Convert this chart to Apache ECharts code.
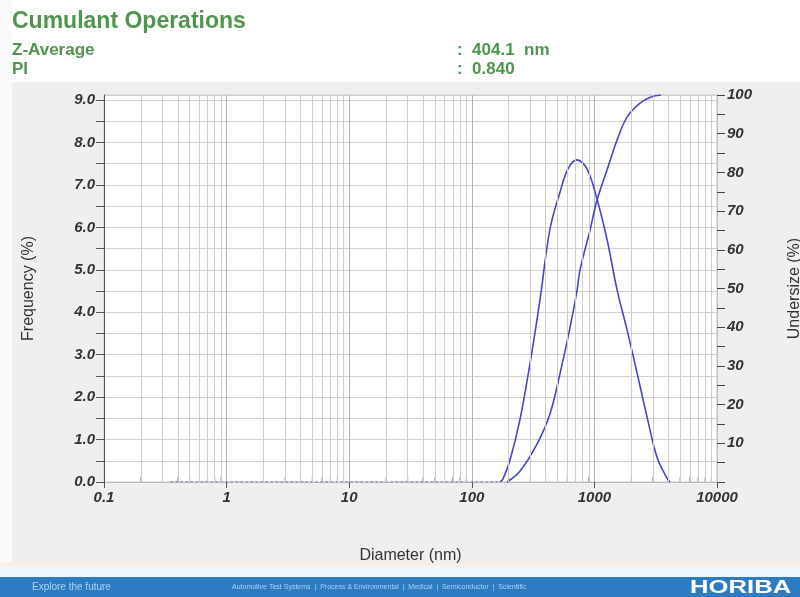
<!DOCTYPE html>
<html>
<head>
<meta charset="utf-8">
<script src="https://cdn.jsdelivr.net/npm/echarts@6/dist/echarts.min.js"></script>
<style>
  html, body { margin: 0; padding: 0; background: #fff; }
  #main { width: 800px; height: 597px; }
</style>
</head>
<body>
<div id="main"></div>
<script>
// 频率分布 (Frequency %)
const freqDiameter = [170, 180, 205, 247, 299, 360, 434, 524, 609, 722, 871, 1050, 1267, 1528, 1845, 2225, 2684, 3236, 3908, 4140];
const freqValues   = [0, 0.08, 0.52, 1.47, 2.81, 4.30, 5.96, 6.83, 7.38, 7.59, 7.38, 6.67, 5.72, 4.54, 3.59, 2.58, 1.54, 0.59, 0.09, 0];
// 累积 (Undersize %)
const cumDiameter = [194, 247, 340, 434, 524, 632, 722, 762, 920, 1050, 1267, 1528, 1845, 2355, 2900, 3500];
const cumValues   = [0, 2.8, 9.8, 17.6, 28.0, 39.9, 49.5, 54.7, 65.0, 72.8, 80.6, 88.3, 94.3, 97.9, 99.5, 100];
// zero baseline before the peak
const baseDiameter = [0.35, 170];
const baseValues   = [0, 0];
const xTickLabels = ['0.1', '1', '10', '100', '1000', '10000'];
const decades = [0.1, 1, 10, 100, 1000];
const minorSteps = [2, 3, 4, 5, 6, 7, 8, 9];

const minorPos = [];
decades.forEach(d => minorSteps.forEach(m => minorPos.push(+(d * m).toPrecision(3))));

const blue = '#4646c8';
const green = '#4f954f';
const tickFont = { color: '#333', fontSize: 15, fontStyle: 'italic', fontWeight: 'bold', fontFamily: 'Liberation Sans, Arial' };
const nameFont = { color: '#333', fontSize: 16, fontFamily: 'Liberation Sans, Arial' };

let myChart = echarts.init(document.getElementById('main'));
let option = {
    animation: false,
    backgroundColor: '#efefef',
    graphic: [
        { type: 'rect', shape: { x: 0, y: 0, width: 800, height: 82 }, style: { fill: '#fff' }, silent: true },
        { type: 'rect', shape: { x: 0, y: 0, width: 12, height: 597 }, style: { fill: '#fafafa' }, silent: true },
        { type: 'rect', shape: { x: 0, y: 562, width: 800, height: 4 }, style: { fill: '#fbeee4' }, silent: true },
        { type: 'rect', shape: { x: 0, y: 566, width: 800, height: 11 }, style: { fill: '#eef6fb' }, silent: true },
        { type: 'rect', shape: { x: 0, y: 577, width: 800, height: 20 }, style: { fill: '#2d7cc3' }, silent: true },
        { type: 'text', left: 12, top: 10, style: { text: 'Cumulant Operations', fill: green, font: 'bold 23px Liberation Sans, Arial' } },
        { type: 'text', left: 12, top: 42, style: { text: 'Z-Average', fill: green, font: 'bold 17px Liberation Sans, Arial' } },
        { type: 'text', left: 12, top: 61, style: { text: 'PI', fill: green, font: 'bold 17px Liberation Sans, Arial' } },
        { type: 'text', left: 457, top: 42, style: { text: ':  404.1  nm', fill: green, font: 'bold 17px Liberation Sans, Arial' } },
        { type: 'text', left: 457, top: 61, style: { text: ':  0.840', fill: green, font: 'bold 17px Liberation Sans, Arial' } },
        { type: 'text', left: 32, top: 582, style: { text: 'Explore the future', fill: '#a9d3f2', font: '10px Liberation Sans, Arial' } },
        { type: 'text', left: 232, top: 584, style: { text: 'Automotive Test Systems  |  Process & Environmental  |  Medical  |  Semiconductor  |  Scientific', fill: '#a9d3f2', font: '7px Liberation Sans, Arial' } },
        { type: 'text', x: 690, y: 578, scaleX: 1.35, style: { text: 'HORIBA', fill: '#fff', font: 'bold 19px Liberation Sans, Arial' } }
    ],
    grid: {
        left: 104, right: 83, top: 95, bottom: 115,
        outerBoundsMode: 'none',
        show: true, backgroundColor: '#fff', borderColor: '#c8c8c8', borderWidth: 1
    },
    xAxis: {
        type: 'log',
        logBase: 10,
        min: 0.1,
        max: 10000,
        splitNumber: 5,
        name: 'Diameter (nm)',
        nameLocation: 'middle',
        nameGap: 66,
        nameTextStyle: nameFont,
        axisLine: { lineStyle: { color: '#bdbdbd' } },
        axisTick: { inside: false, length: 6, lineStyle: { color: '#555' } },
        axisLabel: Object.assign({ margin: 8, formatter: v => xTickLabels[Math.round(Math.log10(v)) + 1] }, tickFont),
        splitLine: { show: true, lineStyle: { color: '#b4b4b4' } }
    },
    yAxis: [
        {
            type: 'value',
            min: 0,
            max: 9.12,
            interval: 0.5,
            name: 'Frequency (%)',
            nameLocation: 'middle',
            nameGap: 67,
            nameRotate: 90,
            nameTextStyle: nameFont,
            axisLine: { show: true, lineStyle: { color: '#555' } },
            axisTick: { length: 8, lineStyle: { color: '#555' } },
            axisLabel: Object.assign({
                margin: 9,
                showMaxLabel: false,
                formatter: v => (Math.abs(v - Math.round(v)) < 1e-6 ? v.toFixed(1) : '')
            }, tickFont),
            splitLine: { show: true, lineStyle: { color: '#cfcfcf' } }
        },
        {
            type: 'value',
            position: 'right',
            min: 0,
            max: 100,
            interval: 5,
            name: 'Undersize (%)',
            nameLocation: 'middle',
            nameGap: 70,
            nameRotate: 90,
            nameTextStyle: nameFont,
            axisLine: { show: true, lineStyle: { color: '#bdbdbd' } },
            axisTick: { length: 8, lineStyle: { color: '#444' } },
            axisLabel: Object.assign({
                margin: 10,
                formatter: v => (v > 0 && v % 10 === 0 ? String(v) : '')
            }, tickFont),
            splitLine: { show: false }
        }
    ],
    series: [
        {
            // 次刻度网格线
            name: 'minorGrid',
            type: 'line',
            data: [],
            silent: true,
            markLine: {
                silent: true,
                symbol: 'none',
                label: { show: false },
                lineStyle: { color: '#cdcdcd', type: 'solid', width: 1 },
                data: minorPos.map(p => ({ xAxis: p }))
            }
        },
        {
            name: 'minorTicks',
            type: 'scatter',
            silent: true,
            symbol: 'rect',
            symbolSize: [1, 5],
            itemStyle: { color: '#777' },
            data: minorPos.map(p => [p, 0.06])
        },
        {
            name: 'baseline',
            type: 'line',
            showSymbol: false,
            lineStyle: { color: blue, width: 1, type: [2, 3] },
            data: baseDiameter.map((d, i) => [d, baseValues[i]])
        },
        {
            name: 'Frequency',
            type: 'line',
            yAxisIndex: 0,
            smooth: 0.35,
            showSymbol: false,
            lineStyle: { color: blue, width: 1.6 },
            data: freqDiameter.map((d, i) => [d, freqValues[i]])
        },
        {
            name: 'Undersize',
            type: 'line',
            yAxisIndex: 1,
            smooth: 0.35,
            showSymbol: false,
            lineStyle: { color: blue, width: 1.6 },
            data: cumDiameter.map((d, i) => [d, cumValues[i]])
        }
    ]
};
option && myChart.setOption(option);
</script>
</body>
</html>
